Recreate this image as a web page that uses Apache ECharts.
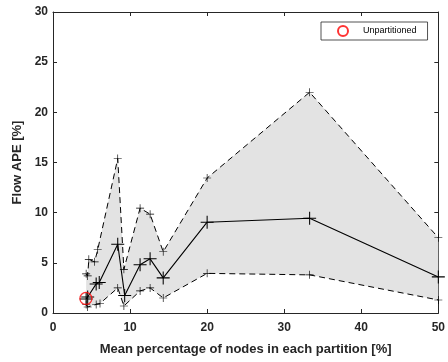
<!DOCTYPE html>
<html>
<head>
<meta charset="utf-8">
<script src="https://cdn.jsdelivr.net/npm/echarts@6/dist/echarts.min.js"></script>
<style>
  html, body { margin: 0; padding: 0; background: #fff; }
  #chart { width: 448px; height: 362px; }
</style>
</head>
<body>
<div id="chart"></div>
<script>
// Mean flow APE per partitioning, with the min/max envelope
const meanX  = [4.3, 4.5, 5.6, 6.0, 8.4, 9.3, 11.3, 12.6, 14.3, 20.0, 33.3, 50.0];
const meanY  = [1.4, 1.6, 2.9, 3.05, 6.85, 1.75, 4.8, 5.4, 3.5, 9.05, 9.45, 3.6];
const upperX = [4.3, 4.5, 4.65, 5.4, 5.8, 8.4, 9.2, 11.3, 12.6, 14.3, 20.0, 33.3, 50.0];
const upperY = [3.9, 3.7, 5.35, 5.1, 6.3, 15.4, 4.35, 10.45, 9.85, 6.1, 13.45, 22.0, 7.5];
const lowerX = [4.3, 4.5, 5.6, 6.1, 8.4, 9.2, 11.3, 12.6, 14.3, 20.0, 33.3, 50.0];
const lowerY = [0.85, 0.6, 0.85, 0.95, 2.5, 0.7, 2.2, 2.5, 1.5, 3.95, 3.8, 1.3];
// Single unpartitioned reference run
const unpartX = [4.27];
const unpartY = [1.45];

const xTicks = [0, 10, 20, 30, 40, 50];
const yTicks = [0, 5, 10, 15, 20, 25, 30];

const zip = (xs, ys) => xs.map((x, i) => [x, ys[i]]);
const meanPts = zip(meanX, meanY);
const upperPts = zip(upperX, upperY);
const lowerPts = zip(lowerX, lowerY);
const bandPoly = upperPts.concat(lowerPts.slice().reverse());

const PLUS = 'path://M-0.08,-1H0.08V-0.08H1V0.08H0.08V1H-0.08V0.08H-1V-0.08H-0.08Z';
const AX = '#262626';
const FONT = '"Liberation Sans", Arial, sans-serif';

const chart = echarts.init(document.getElementById('chart'), null, { renderer: 'canvas' });

const baseX = {
  type: 'value', min: xTicks[0], max: xTicks[xTicks.length - 1], interval: 10,
  axisLine: { show: true, onZero: false, lineStyle: { color: AX, width: 1 } },
  axisTick: { show: true, inside: true, length: 4, lineStyle: { color: AX } },
  splitLine: { show: false }
};
const baseY = {
  type: 'value', min: yTicks[0], max: yTicks[yTicks.length - 1], interval: 5,
  axisLine: { show: true, onZero: false, lineStyle: { color: AX, width: 1 } },
  axisTick: { show: true, inside: true, length: 4, lineStyle: { color: AX } },
  splitLine: { show: false }
};

chart.setOption({
  animation: false,
  backgroundColor: '#ffffff',
  grid: { left: 53, right: 9, top: 12, bottom: 49, containLabel: false },
  xAxis: [
    Object.assign({}, baseX, {
      position: 'bottom',
      name: 'Mean percentage of nodes in each partition [%]',
      nameLocation: 'middle', nameGap: 30,
      nameTextStyle: { fontFamily: FONT, fontWeight: 'bold', fontSize: 13, color: AX },
      axisLabel: { margin: 9, fontFamily: FONT, fontWeight: 'bold', fontSize: 12, color: AX }
    }),
    Object.assign({}, baseX, { position: 'top', axisLabel: { show: false } })
  ],
  yAxis: [
    Object.assign({}, baseY, {
      position: 'left',
      name: 'Flow APE [%]',
      nameLocation: 'middle', nameGap: 27, nameRotate: 90,
      nameTextStyle: { fontFamily: FONT, fontWeight: 'bold', fontSize: 13, color: AX },
      axisLabel: { margin: 5, fontFamily: FONT, fontWeight: 'bold', fontSize: 12, color: AX }
    }),
    Object.assign({}, baseY, { position: 'right', axisLabel: { show: false } })
  ],
  legend: {
    data: [{ name: 'Unpartitioned', icon: 'circle' }],
    left: 321, top: 22,
    padding: [3, 11, 3, 16],
    itemWidth: 30, itemHeight: 10,
    backgroundColor: '#fff',
    borderColor: AX, borderWidth: 0.8, borderRadius: 0,
    textStyle: { fontFamily: FONT, fontSize: 9, color: '#000' },
    selectedMode: false
  },
  series: [
    {
      name: 'band', type: 'custom', silent: true, z: 1,
      data: bandPoly,
      renderItem: function (params, api) {
        if (params.dataIndex !== 0) return null;
        const pts = bandPoly.map(p => api.coord(p));
        return { type: 'polygon', shape: { points: pts }, style: { fill: '#e3e3e3' } };
      }
    },
    {
      name: 'upper', type: 'line', data: upperPts, z: 3,
      symbol: PLUS, symbolSize: 8,
      itemStyle: { color: '#000' },
      lineStyle: { color: '#000', width: 1, type: [6, 4] }
    },
    {
      name: 'lower', type: 'line', data: lowerPts, z: 3,
      symbol: PLUS, symbolSize: 8,
      itemStyle: { color: '#000' },
      lineStyle: { color: '#000', width: 1, type: [6, 4] }
    },
    {
      name: 'mean', type: 'line', data: meanPts, z: 4,
      symbol: PLUS, symbolSize: 13,
      itemStyle: { color: '#000' },
      lineStyle: { color: '#000', width: 1.1 }
    },
    {
      name: 'Unpartitioned', type: 'scatter', data: zip(unpartX, unpartY), z: 5,
      symbol: 'circle', symbolSize: 12,
      itemStyle: { color: 'rgba(0,0,0,0)', borderColor: '#ff0000', borderWidth: 1.3 }
    }
  ]
});
</script>
</body>
</html>
